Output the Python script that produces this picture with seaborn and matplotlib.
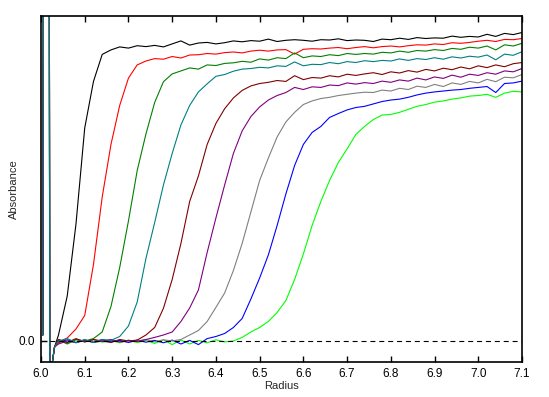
import numpy as np
import pandas as pd
import seaborn as sns
import matplotlib.pyplot as plt

# Scan data (absorbance vs radius)
meniscus_r = [6.004, 6.006, 6.019, 6.020, 6.026, 6.031]
meniscus_a = [0.02, 1.50, 1.50, -0.30, -0.07, -0.02]

radius = [6.04, 6.06, 6.08, 6.10, 6.12, 6.14, 6.16, 6.18, 6.20,
          6.22, 6.24, 6.26, 6.28, 6.30, 6.32, 6.34, 6.36, 6.38,
          6.40, 6.42, 6.44, 6.46, 6.48, 6.50, 6.52, 6.54, 6.56,
          6.58, 6.60, 6.62, 6.64, 6.66, 6.68, 6.70, 6.72, 6.74,
          6.76, 6.78, 6.80, 6.82, 6.84, 6.86, 6.88, 6.90, 6.92,
          6.94, 6.96, 6.98, 7.00, 7.02, 7.04, 7.06, 7.08, 7.10]

scan1 = [0.020, 0.150, 0.390, 0.710, 0.865, 0.955, 0.970, 0.980, 0.976,
         0.984, 0.981, 0.985, 0.980, 0.990, 1.000, 0.986, 0.993, 0.995,
         0.990, 0.994, 1.000, 0.997, 1.001, 0.999, 1.006, 0.998, 1.002,
         1.004, 1.002, 0.999, 1.004, 1.003, 1.007, 1.001, 1.003, 1.002,
         0.998, 1.006, 1.004, 1.009, 1.005, 1.011, 1.008, 1.010, 1.009,
         1.016, 1.012, 1.015, 1.013, 1.022, 1.015, 1.025, 1.021, 1.028]
scan2 = [-0.005, 0.010, 0.040, 0.085, 0.255, 0.480, 0.655, 0.785, 0.876,
         0.920, 0.933, 0.941, 0.939, 0.948, 0.943, 0.953, 0.954, 0.958,
         0.956, 0.961, 0.963, 0.960, 0.966, 0.969, 0.966, 0.970, 0.971,
         0.956, 0.972, 0.974, 0.973, 0.976, 0.978, 0.974, 0.978, 0.981,
         0.977, 0.981, 0.983, 0.980, 0.984, 0.987, 0.986, 0.990, 0.988,
         0.994, 0.992, 0.995, 0.999, 1.002, 0.998, 1.005, 1.004, 1.008]
scan3 = [0.005, -0.010, 0.005, 0.000, 0.008, 0.030, 0.115, 0.245, 0.400,
         0.568, 0.690, 0.795, 0.864, 0.890, 0.900, 0.910, 0.906, 0.920,
         0.918, 0.925, 0.927, 0.932, 0.929, 0.940, 0.936, 0.944, 0.941,
         0.960, 0.944, 0.950, 0.948, 0.954, 0.951, 0.958, 0.955, 0.958,
         0.956, 0.962, 0.960, 0.966, 0.962, 0.968, 0.966, 0.971, 0.968,
         0.975, 0.972, 0.979, 0.976, 0.983, 0.970, 0.987, 0.983, 0.992]
scan4 = [0.000, 0.008, -0.005, 0.005, -0.005, 0.005, 0.002, 0.015, 0.050,
         0.130, 0.275, 0.395, 0.520, 0.625, 0.720, 0.785, 0.830, 0.857,
         0.882, 0.888, 0.899, 0.906, 0.908, 0.912, 0.910, 0.917, 0.915,
         0.930, 0.917, 0.922, 0.921, 0.928, 0.924, 0.931, 0.928, 0.934,
         0.931, 0.935, 0.933, 0.940, 0.935, 0.941, 0.938, 0.944, 0.939,
         0.947, 0.943, 0.949, 0.946, 0.953, 0.937, 0.956, 0.952, 0.964]
scan5 = [0.005, -0.005, 0.008, -0.003, 0.005, 0.000, -0.005, 0.005, 0.000,
         0.003, 0.020, 0.045, 0.109, 0.205, 0.325, 0.465, 0.550, 0.655,
         0.725, 0.774, 0.810, 0.835, 0.850, 0.858, 0.862, 0.868, 0.865,
         0.884, 0.871, 0.878, 0.876, 0.884, 0.880, 0.889, 0.885, 0.890,
         0.894, 0.888, 0.897, 0.893, 0.901, 0.896, 0.905, 0.900, 0.909,
         0.904, 0.913, 0.907, 0.917, 0.911, 0.920, 0.914, 0.924, 0.928]
scan6 = [-0.010, 0.000, -0.005, 0.003, -0.005, 0.000, 0.005, -0.003, 0.002,
         -0.002, 0.005, 0.012, 0.020, 0.030, 0.065, 0.110, 0.170, 0.295,
         0.410, 0.520, 0.625, 0.700, 0.748, 0.780, 0.803, 0.818, 0.828,
         0.845, 0.838, 0.847, 0.845, 0.853, 0.851, 0.860, 0.856, 0.861,
         0.858, 0.866, 0.862, 0.870, 0.866, 0.876, 0.870, 0.880, 0.875,
         0.886, 0.879, 0.889, 0.885, 0.894, 0.889, 0.900, 0.897, 0.908]
scan7 = [0.000, -0.008, 0.005, -0.003, 0.004, -0.002, 0.003, -0.004, 0.002,
         0.000, 0.005, -0.003, 0.004, 0.000, 0.005, 0.020, 0.035, 0.065,
         0.112, 0.160, 0.235, 0.325, 0.430, 0.535, 0.610, 0.680, 0.730,
         0.762, 0.788, 0.800, 0.808, 0.812, 0.818, 0.822, 0.826, 0.829,
         0.828, 0.836, 0.833, 0.842, 0.838, 0.849, 0.845, 0.855, 0.848,
         0.860, 0.855, 0.865, 0.860, 0.872, 0.864, 0.879, 0.877, 0.888]
scan8 = [-0.005, 0.004, -0.006, 0.003, -0.004, 0.005, -0.003, 0.002, -0.005,
         0.003, -0.004, 0.002, -0.006, 0.003, -0.010, 0.002, -0.012, 0.008,
         0.015, 0.025, 0.045, 0.075, 0.140, 0.210, 0.287, 0.385, 0.490,
         0.585, 0.655, 0.695, 0.715, 0.745, 0.758, 0.770, 0.778, 0.782,
         0.790, 0.798, 0.803, 0.806, 0.812, 0.820, 0.826, 0.830, 0.833,
         0.836, 0.838, 0.842, 0.845, 0.848, 0.828, 0.858, 0.860, 0.866]
scan9 = [0.003, -0.005, 0.004, -0.003, 0.005, -0.004, 0.002, -0.006, 0.003,
         -0.005, 0.002, -0.008, 0.004, -0.012, 0.003, -0.010, 0.002, -0.006,
         0.004, -0.003, 0.000, 0.012, 0.030, 0.045, 0.065, 0.095, 0.135,
         0.205, 0.290, 0.385, 0.465, 0.535, 0.595, 0.640, 0.688, 0.715,
         0.738, 0.753, 0.755, 0.762, 0.772, 0.782, 0.788, 0.796, 0.800,
         0.806, 0.810, 0.816, 0.818, 0.822, 0.812, 0.826, 0.832, 0.830]

scans = [scan1, scan2, scan3, scan4, scan5, scan6, scan7, scan8, scan9]
colors = ["#000000", "#ff0000", "#008000", "#008080", "#800000",
          "#800080", "#808080", "#0000ff", "#00ff00"]
# drawing order so the teal meniscus trace ends up on top, like the original
order = [8, 7, 6, 0, 1, 2, 4, 5, 3]

rows = []
for i in order:
    for r, a in zip(meniscus_r + radius, meniscus_a + scans[i]):
        rows.append({"scan": str(i), "Radius": r, "Absorbance": a})
df = pd.DataFrame(rows)

sns.set_theme(style="white")
plt.rcParams['font.family'] = ['Liberation Sans', 'DejaVu Sans']

fig = plt.figure(figsize=(5.49, 3.97), dpi=100)
ax = fig.add_axes([41/549, 1-362/397, 481/549, 346/397])

sns.lineplot(data=df, x="Radius", y="Absorbance", hue="scan",
             palette=[colors[i] for i in order], estimator=None, sort=False,
             linewidth=0.8, legend=False, ax=ax)
ax.axhline(0, color="black", linestyle=(0, (4.5, 3.5)), linewidth=0.8)

ax.set_xlim(6.0, 7.1)
ax.set_ylim(-0.07, 1.083)
ax.set_xticks(np.arange(6.0, 7.11, 0.1))
ax.set_xticklabels([f"{v:.1f}" for v in np.arange(6.0, 7.11, 0.1)])
ax.set_yticks([0.0])
ax.set_yticklabels(["0.0"])
ax.tick_params(direction="in", length=4, width=1, color="black",
               labelsize=8.5, labelcolor="black", top=True, right=False,
               bottom=True, left=True, pad=4)
for sp in ax.spines.values():
    sp.set_color("black")
    sp.set_linewidth(1.2)
ax.set_xlabel("Radius", fontsize=8, labelpad=1)
ax.set_ylabel("Absorbance", fontsize=8, labelpad=0)

fig.savefig("out.png", dpi=100)
